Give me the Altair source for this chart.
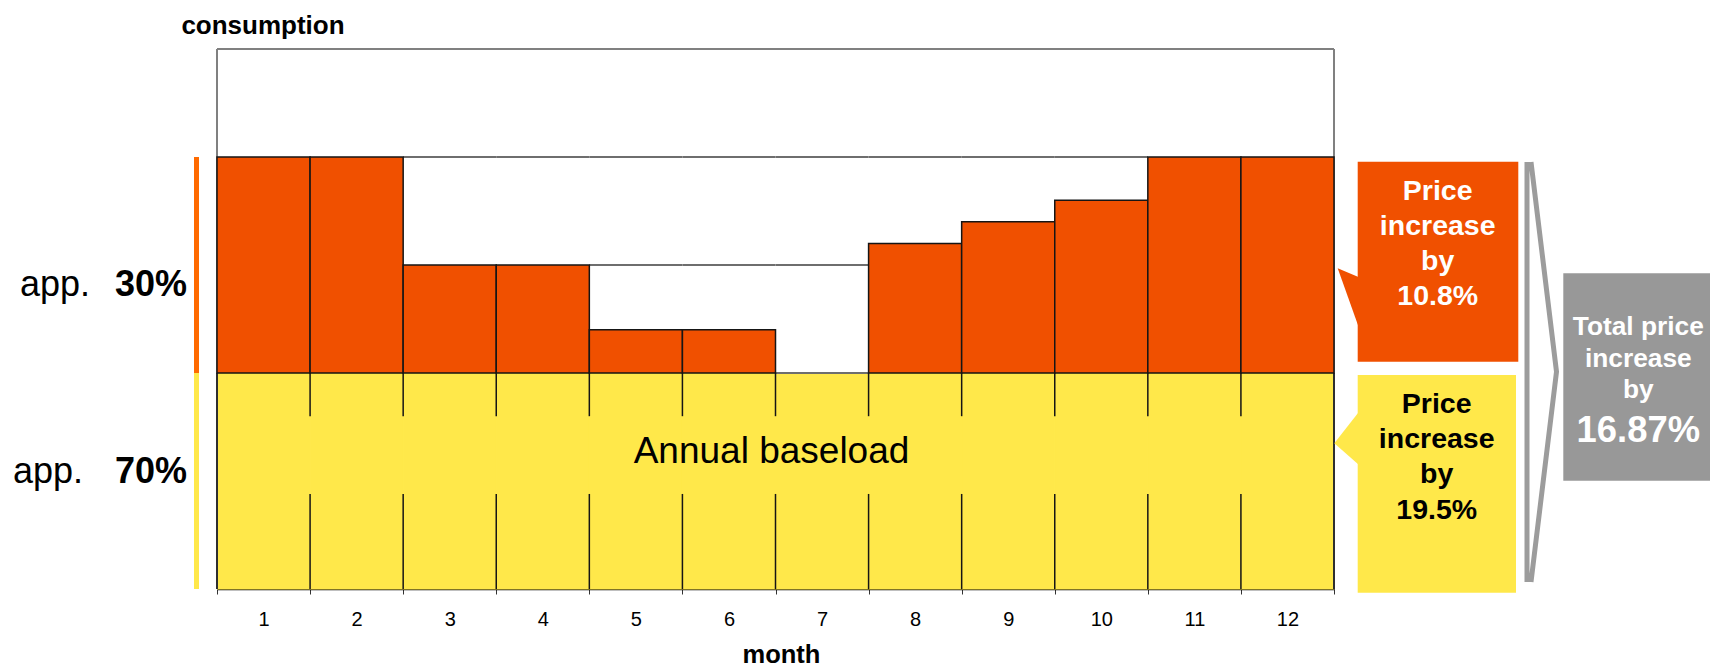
import altair as alt
import pandas as pd

# Monthly electricity consumption: a constant annual baseload plus a seasonal peak part
months = list(range(1, 13))
baseload = [100] * 12
peak = [100, 100, 50, 50, 20, 20, 0, 60, 70, 80, 100, 100]

# Stepped outline above the peak bars: level, first month, last month
outline_level = [100, 50, 0]
outline_first = [3, 5, 7]
outline_last = [10, 7, 7]

share_prefix = ["app.", "app."]
share_labels = ["30%", "70%"]
peak_increase = ["Price", "increase", "by", "10.8%"]
base_increase = ["Price", "increase", "by", "19.5%"]
total_increase_text = ["Total price", "increase", "by"]
total_increase_value = "16.87%"

ORANGE = "#F05000"
ORANGE_MARK = "#FF6A00"
YELLOW = "#FFE84A"
GREY = "#989898"
FRAME = "#808080"
INK = "#151515"
FONT = "Liberation Sans"

W, H = 1117, 540
Y_MAX = 250

bars = pd.DataFrame({"month": months, "base": baseload, "peak": peak})
bars["top"] = bars["base"] + bars["peak"]
peak_bars = bars[bars["peak"] > 0]

outline_rows = []
for lvl, a, b in zip(outline_level, outline_first, outline_last):
    for m in range(a, b + 1):
        y = baseload[m - 1] + lvl
        outline_rows.append({"month": m, "y": y, "y2": y})
outline = pd.DataFrame(outline_rows)

# month separators inside the baseload band, interrupted around the label
div_rows = []
for m in months[1:]:
    b = baseload[m - 1]
    div_rows.append({"month": m, "y": b, "y2": b - 20})
    div_rows.append({"month": m, "y": 44, "y2": 0})
dividers = pd.DataFrame(div_rows)

shares = pd.DataFrame({
    "lo": [baseload[0], 0],
    "hi": [baseload[0] + max(peak), baseload[0]],
    "c": [ORANGE_MARK, YELLOW],
})

x_scale = alt.Scale(domain=months, paddingInner=0, paddingOuter=0)
y_scale = alt.Scale(domain=[0, Y_MAX], nice=False, zero=True)

x_axis = alt.Axis(
    title="month", labelAngle=0, tickBand="extent", grid=False,
    domainColor="black", domainWidth=1.5, tickColor="#333333", tickWidth=1,
    tickSize=5, labelFontSize=20, labelFont=FONT, labelColor="black",
    labelPadding=15, titleFontSize=25.5, titleFont=FONT, titleFontWeight="bold",
    titleColor="black", titleX=564, titleY=73.5, titleAlign="center",
    titleBaseline="alphabetic",
)
y_axis = alt.Axis(
    title="consumption", titleAngle=0, titleX=45.5, titleY=-16,
    titleAlign="center", titleBaseline="alphabetic", titleFontSize=26,
    titleFont=FONT, titleFontWeight="bold", titleColor="black",
    domain=False, ticks=False, labels=False, grid=False,
)


def X(field, **kw):
    return alt.X(field, type="ordinal", scale=x_scale, axis=x_axis, **kw)


def Y(field):
    return alt.Y(field, type="quantitative", scale=y_scale, axis=y_axis)


one = pd.DataFrame({"k": [0]})

# grey frame around the plot area
frame = alt.Chart(one).mark_rule(color=FRAME, strokeWidth=2).encode(
    x=alt.value(0), x2=alt.value(W), y=alt.value(0)
)
frame_l = alt.Chart(one).mark_rule(color=FRAME, strokeWidth=2).encode(
    x=alt.value(0), y=alt.value(0), y2=alt.value(H)
)
frame_r = alt.Chart(one).mark_rule(color=FRAME, strokeWidth=2).encode(
    x=alt.value(W), y=alt.value(0), y2=alt.value(H)
)

base_layer = alt.Chart(bars).mark_bar(fill=YELLOW, stroke=YELLOW, strokeWidth=1).encode(
    x=X("month"), y=Y("base")
)

outline_layer = alt.Chart(outline).mark_bar(fill="white", stroke="#6e6e6e", strokeWidth=2).encode(
    x=X("month"), y=Y("y"), y2="y2"
)

peak_layer = alt.Chart(peak_bars).mark_bar(fill=ORANGE, stroke=INK, strokeWidth=1.5).encode(
    x=X("month"), y=Y("top"), y2="base"
)

divider_layer = alt.Chart(dividers).mark_rule(color=INK, strokeWidth=1.5).encode(
    x=X("month", bandPosition=0), y=Y("y"), y2="y2"
)

edges = pd.DataFrame({"y": [baseload[0]], "y2": [0]})
edge_l = alt.Chart(edges).mark_rule(color=INK, strokeWidth=1.5).encode(
    x=alt.value(0), y=Y("y"), y2="y2"
)
edge_r = alt.Chart(edges).mark_rule(color=INK, strokeWidth=1.5).encode(
    x=alt.value(W), y=Y("y"), y2="y2"
)

baseload_label = alt.Chart(one).mark_text(
    text="Annual baseload", font=FONT, fontSize=37, color="black",
    align="center", baseline="alphabetic",
).encode(x=alt.value(W / 2 - 4), y=alt.value(414))

# share indicators left of the plot
share_bars = alt.Chart(shares).mark_rule(strokeWidth=5).encode(
    x=alt.value(-20.5), y=Y("hi"), y2="lo", color=alt.Color("c:N", scale=None)
)

left_text = []
for prefix, pct, px, py in zip(share_prefix, share_labels, [-127, -134], [247, 434]):
    left_text.append(alt.Chart(one).mark_text(
        text=prefix, font=FONT, fontSize=36, color="black", align="right",
        baseline="alphabetic").encode(x=alt.value(px), y=alt.value(py)))
    left_text.append(alt.Chart(one).mark_text(
        text=pct, font=FONT, fontSize=36, fontWeight="bold", color="black",
        align="right", baseline="alphabetic").encode(x=alt.value(-30), y=alt.value(py)))

# callout boxes on the right
def box(x1, x2, y1, y2, color):
    return alt.Chart(one).mark_rect(fill=color).encode(
        x=alt.value(x1), x2=alt.value(x2), y=alt.value(y1), y2=alt.value(y2)
    )


def glyph(path, color, filled=True, width=0):
    if filled:
        m = alt.Chart(one).mark_point(shape=path, size=4, filled=True, fill=color,
                                      strokeWidth=0, opacity=1)
    else:
        m = alt.Chart(one).mark_point(shape=path, size=4, filled=False, stroke=color,
                                      strokeWidth=width, opacity=1, strokeJoin="miter")
    return m.encode(x=alt.value(0), y=alt.value(0))


orange_box = box(1140.7, 1301.3, 112.7, 312.7, ORANGE)
orange_tip = glyph("M1120.7,219.3L1142,228.2L1142,279Z", ORANGE)
yellow_box = box(1140.7, 1299, 326, 543.7, YELLOW)
yellow_tip = glyph("M1117.3,394.3L1142,362.7L1142,416Z", YELLOW)
chevron = glyph("M1310,113L1310,533M1314,113L1339.5,322.7L1314,533", "#9c9c9c",
                filled=False, width=5)
grey_box = box(1346.3, 1500, 224.3, 431.7, GREY)

orange_text = alt.Chart(one).mark_text(
    text=peak_increase, font=FONT, fontSize=28.5, fontWeight="bold", color="white",
    align="center", baseline="alphabetic", lineHeight=35,
).encode(x=alt.value(1220.7), y=alt.value(151))
yellow_text = alt.Chart(one).mark_text(
    text=base_increase, font=FONT, fontSize=28.5, fontWeight="bold", color="black",
    align="center", baseline="alphabetic", lineHeight=35.4,
).encode(x=alt.value(1219.7), y=alt.value(363.7))
grey_text = alt.Chart(one).mark_text(
    text=total_increase_text, font=FONT, fontSize=26.3, fontWeight="bold", color="white",
    align="center", baseline="alphabetic", lineHeight=31.7,
).encode(x=alt.value(1421.3), y=alt.value(286))
grey_value = alt.Chart(one).mark_text(
    text=total_increase_value, font=FONT, fontSize=36.4, fontWeight="bold", color="white",
    align="center", baseline="alphabetic",
).encode(x=alt.value(1421.3), y=alt.value(392.7))

chart = alt.layer(
    base_layer, frame, frame_l, frame_r, outline_layer, peak_layer, divider_layer,
    edge_l, edge_r, baseload_label, share_bars, *left_text,
    orange_box, orange_tip, yellow_box, yellow_tip, chevron, grey_box,
    orange_text, yellow_text, grey_text, grey_value,
).properties(
    width=W, height=H,
    autosize=alt.AutoSizeParams(type="none"),
    padding={"left": 217, "top": 49, "right": 376, "bottom": 78},
    background="white",
).configure_view(
    stroke="transparent"
).configure_axisX(
    labelFontSize=20, labelFont=FONT, labelColor="black"
)

chart.save("out.html", embed_options={"renderer": "svg", "actions": False})
